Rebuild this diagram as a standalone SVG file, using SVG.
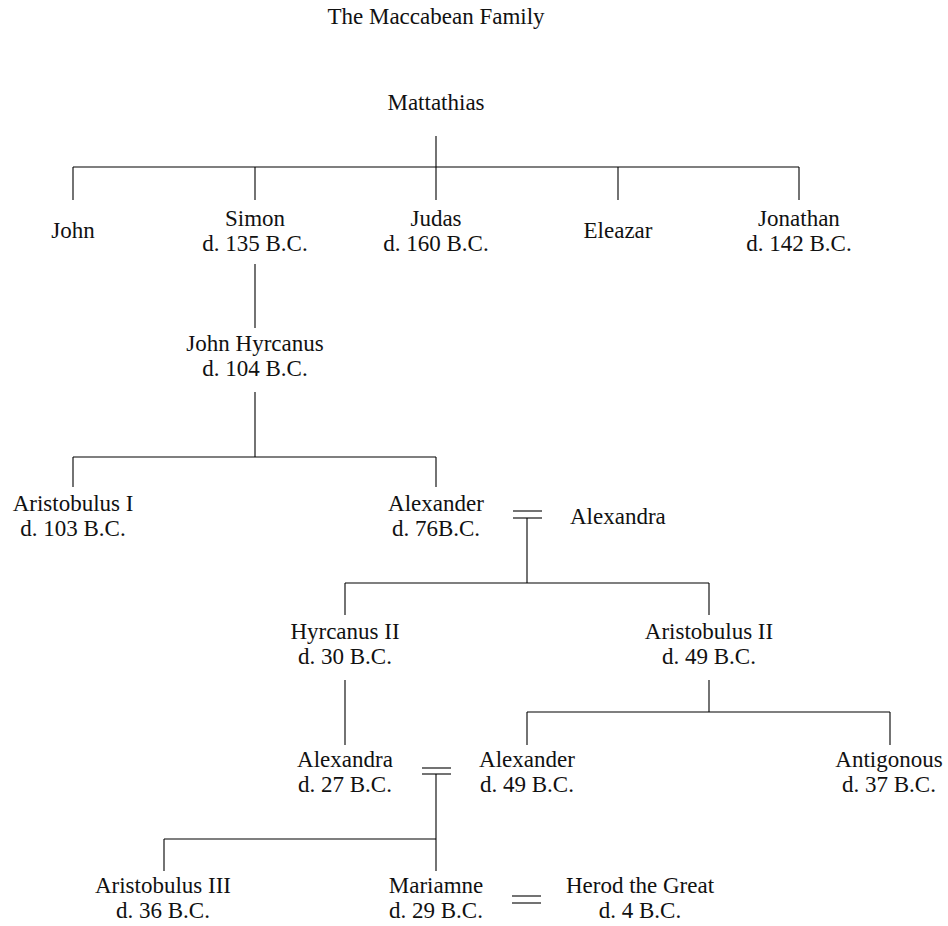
<svg xmlns="http://www.w3.org/2000/svg" width="948" height="926" viewBox="0 0 948 926">
<style>
text{font-family:"Liberation Serif","Times New Roman",serif;font-size:23px;fill:#111;text-anchor:middle}
.c line{stroke:#000;stroke-width:1.1;fill:none}
</style>
<rect width="948" height="926" fill="#fff"/>
<text id="title" x="436" y="24">The Maccabean Family</text>
<g class="c" id="connectors">
<line x1="436" y1="136" x2="436" y2="200"/>
<line x1="73" y1="167" x2="799" y2="167"/>
<line x1="73" y1="167" x2="73" y2="200"/>
<line x1="255" y1="167" x2="255" y2="200"/>
<line x1="618" y1="167" x2="618" y2="200"/>
<line x1="799" y1="167" x2="799" y2="200"/>
<line x1="255" y1="264" x2="255" y2="328"/>
<line x1="255" y1="392" x2="255" y2="457"/>
<line x1="73" y1="457" x2="436" y2="457"/>
<line x1="73" y1="457" x2="73" y2="487"/>
<line x1="436" y1="457" x2="436" y2="487"/>
<line x1="513" y1="511" x2="542" y2="511"/>
<line x1="513" y1="518" x2="542" y2="518"/>
<line x1="527" y1="518" x2="527" y2="583"/>
<line x1="345" y1="583" x2="709" y2="583"/>
<line x1="345" y1="583" x2="345" y2="615"/>
<line x1="709" y1="583" x2="709" y2="615"/>
<line x1="345" y1="680" x2="345" y2="745"/>
<line x1="709" y1="680" x2="709" y2="712"/>
<line x1="527" y1="712" x2="890" y2="712"/>
<line x1="527" y1="712" x2="527" y2="745"/>
<line x1="890" y1="712" x2="890" y2="745"/>
<line x1="422" y1="768" x2="451" y2="768"/>
<line x1="422" y1="774" x2="451" y2="774"/>
<line x1="436" y1="774" x2="436" y2="871"/>
<line x1="164" y1="839" x2="436" y2="839"/>
<line x1="164" y1="839" x2="164" y2="871"/>
<line x1="512" y1="896" x2="541" y2="896"/>
<line x1="512" y1="903" x2="541" y2="903"/>
</g>
<g id="mattathias"><text x="436" y="110">Mattathias</text></g>
<g id="john"><text x="73" y="238">John</text></g>
<g id="simon"><text x="255" y="226">Simon</text><text x="255" y="251">d. 135 B.C.</text></g>
<g id="judas"><text x="436" y="226">Judas</text><text x="436" y="251">d. 160 B.C.</text></g>
<g id="eleazar"><text x="618" y="238">Eleazar</text></g>
<g id="jonathan"><text x="799" y="226">Jonathan</text><text x="799" y="251">d. 142 B.C.</text></g>
<g id="john-hyrcanus"><text x="255" y="351">John Hyrcanus</text><text x="255" y="376">d. 104 B.C.</text></g>
<g id="aristobulus-i"><text x="73" y="511">Aristobulus I</text><text x="73" y="536">d. 103 B.C.</text></g>
<g id="alexander"><text x="436" y="511">Alexander</text><text x="436" y="536">d. 76B.C.</text></g>
<g id="alexandra-1"><text x="570" y="524" style="text-anchor:start">Alexandra</text></g>
<g id="hyrcanus-ii"><text x="345" y="639">Hyrcanus II</text><text x="345" y="664">d. 30 B.C.</text></g>
<g id="aristobulus-ii"><text x="709" y="639">Aristobulus II</text><text x="709" y="664">d. 49 B.C.</text></g>
<g id="alexandra-2"><text x="345" y="767">Alexandra</text><text x="345" y="792">d. 27 B.C.</text></g>
<g id="alexander-2"><text x="527" y="767">Alexander</text><text x="527" y="792">d. 49 B.C.</text></g>
<g id="antigonous"><text x="889" y="767">Antigonous</text><text x="889" y="792">d. 37 B.C.</text></g>
<g id="aristobulus-iii"><text x="163" y="893">Aristobulus III</text><text x="163" y="918">d. 36 B.C.</text></g>
<g id="mariamne"><text x="436" y="893">Mariamne</text><text x="436" y="918">d. 29 B.C.</text></g>
<g id="herod"><text x="640" y="893">Herod the Great</text><text x="640" y="918">d. 4 B.C.</text></g>
</svg>
